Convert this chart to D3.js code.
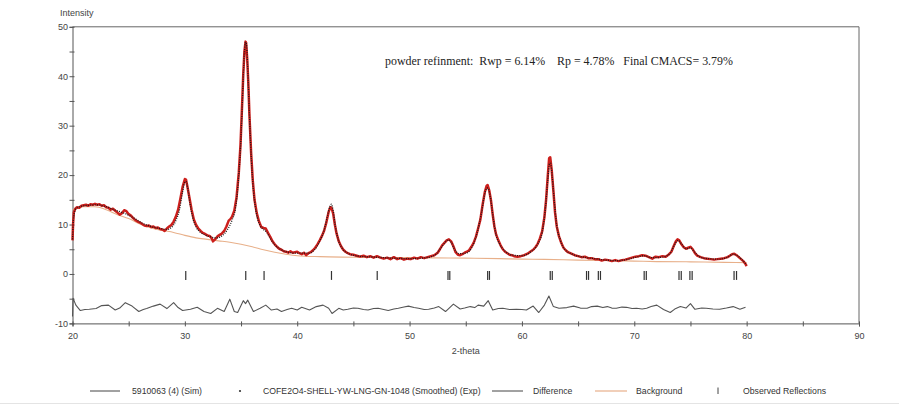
<!DOCTYPE html>
<html><head><meta charset="utf-8">
<script src="https://cdn.jsdelivr.net/npm/d3@7"></script>
<style>html,body{margin:0;padding:0;background:#fff;} svg{display:block;}</style>
</head><body>
<svg id="chart" width="899" height="405"></svg>
<script>
// ---------- DATA ----------
const xTicks = [20,25,30,35,40,45,50,55,60,65,70,75,80,85,90];
const yTicks = [-10,-5,0,5,10,15,20,25,30,35,40,45,50];

// experimental pattern [2-theta, intensity]
const observed = [
[20.00,6.8],[20.05,10.0],[20.12,12.5],[20.25,13.2],[20.4,13.5],[20.6,13.4],[20.8,13.8],[21.0,13.9],[21.2,14.0],[21.4,13.8],
[21.6,14.1],[21.8,14.0],[22.0,14.2],[22.2,14.0],[22.4,14.1],[22.6,13.8],[22.8,13.9],[23.0,13.5],[23.2,13.4],[23.4,13.0],
[23.6,13.2],[23.8,12.8],[24.0,12.4],[24.2,12.0],[24.4,12.3],[24.6,12.9],[24.8,12.7],[25.0,12.1],[25.2,11.8],[25.4,11.3],
[25.6,10.9],[25.8,10.6],[26.0,10.4],[26.2,10.1],[26.4,9.8],[26.6,9.7],[26.8,9.8],[27.0,9.5],[27.2,9.6],[27.4,9.3],
[27.6,9.4],[27.8,9.1],[28.0,9.0],[28.2,8.7],[28.4,9.2],[28.6,9.6],[28.8,9.9],[29.0,10.6],[29.2,11.6],[29.4,13.0],
[29.6,15.2],[29.8,17.6],[30.0,19.2],[30.1,19.1],[30.2,18.0],[30.4,15.5],[30.6,13.0],[30.8,11.0],[31.0,9.9],[31.2,9.2],
[31.4,8.7],[31.6,8.3],[31.8,8.1],[32.0,7.8],[32.2,7.7],[32.4,7.2],[32.5,6.6],[32.7,7.0],[32.9,7.6],[33.1,7.9],
[33.3,8.2],[33.5,8.7],[33.7,9.6],[33.9,10.8],[34.05,11.1],[34.2,11.6],[34.4,12.8],[34.6,15.5],[34.8,20.5],[34.95,26.0],
[35.1,34.5],[35.2,40.5],[35.3,45.0],[35.4,47.0],[35.45,46.8],[35.55,43.5],[35.65,38.5],[35.75,32.0],[35.9,24.4],[36.05,18.8],
[36.2,15.0],[36.4,12.3],[36.6,10.6],[36.8,9.5],[37.0,9.3],[37.2,9.2],[37.4,8.3],[37.6,7.5],[37.8,6.6],[38.0,6.0],
[38.2,5.5],[38.4,5.1],[38.6,4.9],[38.8,4.6],[39.0,4.5],[39.2,4.3],[39.4,4.6],[39.6,4.3],[39.8,4.4],[40.0,4.5],
[40.2,4.2],[40.4,4.0],[40.6,4.3],[40.8,3.8],[41.0,4.2],[41.2,4.4],[41.4,4.8],[41.6,5.3],[41.8,6.0],[42.0,6.8],
[42.2,7.7],[42.4,8.8],[42.6,10.5],[42.8,12.6],[42.95,13.5],[43.05,13.4],[43.2,12.2],[43.35,10.0],[43.5,8.2],[43.7,6.6],
[43.9,5.6],[44.1,4.9],[44.3,4.5],[44.5,4.2],[44.7,4.0],[45.0,3.9],[45.3,3.7],[45.6,3.5],[45.9,3.7],[46.2,3.4],
[46.5,3.6],[46.8,3.3],[47.1,3.6],[47.4,3.3],[47.7,3.1],[48.0,3.3],[48.3,3.0],[48.6,3.4],[48.9,3.0],[49.2,3.2],
[49.5,2.9],[49.8,3.1],[50.1,3.0],[50.4,3.3],[50.7,3.1],[51.0,3.4],[51.3,3.2],[51.6,3.4],[51.9,3.6],[52.2,3.8],
[52.5,4.3],[52.7,5.0],[52.9,5.8],[53.1,6.3],[53.3,6.8],[53.5,7.0],[53.7,6.6],[53.9,5.6],[54.1,4.4],[54.3,3.9],
[54.5,3.8],[54.7,4.0],[54.9,4.3],[55.1,4.5],[55.3,4.8],[55.5,5.5],[55.7,6.3],[55.9,7.5],[56.1,9.2],[56.3,11.0],
[56.5,14.0],[56.7,16.6],[56.85,17.8],[56.95,18.0],[57.1,16.8],[57.25,14.8],[57.4,12.0],[57.55,9.6],[57.7,8.0],[57.9,6.8],
[58.1,5.8],[58.3,5.0],[58.5,4.5],[58.7,4.2],[58.9,3.9],[59.1,3.8],[59.3,3.6],[59.6,3.5],[59.9,3.6],[60.2,3.8],
[60.5,4.1],[60.8,4.6],[61.0,4.9],[61.2,5.4],[61.4,6.1],[61.6,7.2],[61.8,8.6],[62.0,11.5],[62.15,15.0],[62.3,19.8],
[62.42,23.4],[62.52,23.6],[62.65,21.0],[62.8,16.8],[62.95,12.4],[63.1,9.6],[63.3,7.6],[63.5,6.3],[63.7,5.3],[63.9,4.8],
[64.1,4.4],[64.4,4.1],[64.7,3.8],[65.0,3.6],[65.3,3.4],[65.6,3.5],[65.9,3.2],[66.2,3.2],[66.5,3.0],[66.8,3.0],
[67.1,2.7],[67.4,2.9],[67.7,2.8],[68.0,2.6],[68.3,2.8],[68.6,2.6],[68.9,2.8],[69.2,2.9],[69.5,3.1],[69.8,3.3],
[70.1,3.5],[70.4,3.6],[70.7,3.8],[71.0,3.7],[71.3,3.4],[71.6,3.1],[71.9,3.5],[72.2,3.4],[72.5,3.6],[72.8,3.5],
[73.1,4.0],[73.3,4.5],[73.5,5.6],[73.7,6.6],[73.85,7.0],[74.0,6.8],[74.2,6.0],[74.4,5.4],[74.6,5.1],[74.8,5.3],
[75.0,5.5],[75.2,5.0],[75.4,4.2],[75.6,3.7],[75.9,3.4],[76.2,3.2],[76.5,3.1],[76.8,3.0],[77.1,2.9],[77.4,3.0],
[77.7,3.1],[78.0,3.2],[78.3,3.4],[78.5,3.7],[78.7,4.0],[78.9,4.1],[79.1,3.8],[79.3,3.4],[79.5,3.0],[79.7,2.6],
[79.9,2.0],[80.0,1.6]
];

// calculated pattern [2-theta, intensity]
const calculated = [
[20.0,7.0],[20.1,11.5],[20.3,13.2],[20.8,13.7],[21.5,13.9],[22.2,14.0],[23.0,13.6],[23.8,12.9],[24.6,12.3],[25.4,11.4],
[26.2,10.3],[27.0,9.6],[27.8,9.2],[28.4,9.0],[28.8,9.4],[29.2,10.8],[29.5,12.8],[29.8,16.6],[30.0,18.6],[30.1,18.7],
[30.25,17.5],[30.45,14.4],[30.7,11.4],[31.0,9.5],[31.4,8.4],[31.8,7.9],[32.3,7.5],[32.8,7.3],[33.3,7.7],[33.8,9.0],
[34.2,10.9],[34.5,13.2],[34.75,18.5],[34.95,25.5],[35.1,33.5],[35.2,40.0],[35.3,44.8],[35.4,46.9],[35.48,46.5],[35.58,42.8],
[35.7,35.2],[35.85,26.5],[36.0,20.0],[36.2,14.8],[36.45,11.4],[36.7,9.8],[37.0,9.0],[37.3,8.4],[37.6,7.2],[38.0,5.9],
[38.5,5.0],[39.0,4.5],[40.0,4.2],[41.0,4.2],[41.5,4.8],[42.0,6.6],[42.4,8.9],[42.7,11.8],[42.9,13.6],[43.05,14.1],
[43.2,12.8],[43.4,9.6],[43.7,6.6],[44.0,5.2],[44.5,4.2],[45.5,3.6],[47.0,3.4],[48.5,3.2],[50.0,3.1],[51.5,3.3],
[52.3,3.9],[52.8,5.3],[53.2,6.5],[53.45,6.9],[53.7,6.4],[54.0,5.0],[54.4,4.1],[55.0,4.2],[55.5,5.2],[56.0,8.2],
[56.4,12.4],[56.7,16.3],[56.9,17.4],[57.0,17.3],[57.2,15.4],[57.45,11.2],[57.7,7.9],[58.0,6.1],[58.5,4.6],[59.2,3.8],
[60.0,3.7],[60.8,4.5],[61.4,6.0],[61.8,8.4],[62.1,13.5],[62.3,19.0],[62.45,22.3],[62.55,22.4],[62.7,19.6],[62.9,14.2],
[63.1,9.8],[63.4,7.0],[63.8,5.0],[64.5,4.0],[65.5,3.4],[66.5,3.1],[67.5,2.8],[68.5,2.7],[69.5,3.0],[70.3,3.5],
[70.9,3.7],[71.5,3.3],[72.5,3.4],[73.2,4.2],[73.6,6.0],[73.9,6.8],[74.2,6.1],[74.6,5.1],[75.0,5.3],[75.3,4.6],
[75.8,3.5],[76.5,3.1],[77.5,3.0],[78.3,3.4],[78.8,4.0],[79.1,3.8],[79.5,3.1],[80.0,1.8]
];

// refined background [2-theta, intensity]
const background = [
[20,13.0],[21,13.6],[22,13.6],[23,13.0],[24,12.0],[25,11.2],[26,10.1],[27,9.3],[28,8.8],[29,8.4],
[30,7.8],[31,7.3],[32,7.0],[33,6.7],[34,6.4],[35,6.0],[36,5.5],[37,4.9],[38,4.4],[39,4.0],
[40,3.7],[42,3.5],[44,3.4],[46,3.35],[48,3.3],[50,3.3],[52,3.25],[55,3.2],[58,3.1],[60,3.0],
[62,2.95],[65,2.8],[68,2.7],[70,2.6],[72,2.5],[75,2.45],[78,2.35],[80,2.3]
];

// difference curve as plotted (offset below the pattern) [2-theta, value]
const difference = [
[20.0,-8.6],[20.05,-4.9],[20.3,-6.3],[20.7,-7.4],[21.1,-7.2],[21.5,-7.15],[22.1,-7.0],[22.6,-6.4],[23.2,-6.3],[23.8,-7.3],
[24.2,-6.9],[24.7,-5.8],[25.3,-6.5],[25.9,-7.6],[26.3,-7.2],[26.6,-7.0],[27.2,-6.5],[27.8,-6.1],[28.4,-7.0],[29.0,-5.8],
[29.4,-6.8],[29.8,-7.4],[30.5,-7.15],[31.1,-6.75],[31.7,-7.6],[32.3,-8.0],[32.9,-6.95],[33.5,-7.6],[34.0,-5.1],[34.4,-7.6],
[34.7,-7.8],[35.2,-5.4],[35.4,-6.0],[35.6,-5.3],[36.1,-7.6],[36.7,-6.95],[37.2,-6.3],[37.7,-7.3],[38.2,-7.1],[38.6,-7.6],
[39.1,-7.2],[39.5,-6.95],[40.0,-7.3],[40.4,-6.75],[41.1,-7.3],[41.7,-6.6],[42.3,-6.3],[42.8,-6.95],[43.1,-8.0],[43.7,-6.95],
[44.1,-7.3],[44.5,-7.15],[45.0,-6.9],[45.4,-6.95],[45.9,-7.2],[46.3,-7.3],[46.8,-7.0],[47.2,-6.95],[47.7,-7.2],[48.1,-7.4],
[48.6,-7.1],[49.0,-6.95],[49.5,-6.7],[49.9,-6.5],[50.4,-6.8],[50.8,-6.95],[51.3,-7.2],[51.7,-7.15],[52.2,-6.9],[52.6,-6.6],
[53.2,-7.6],[53.9,-6.1],[54.5,-7.1],[54.9,-6.9],[55.4,-6.6],[55.8,-6.8],[56.1,-6.3],[56.6,-6.5],[57.0,-5.4],[57.4,-7.3],
[57.9,-7.0],[58.3,-6.95],[58.9,-7.2],[59.5,-7.15],[60.0,-7.2],[60.4,-7.3],[61.0,-6.5],[61.5,-7.8],[62.0,-6.3],[62.4,-4.45],
[62.8,-6.6],[63.3,-6.95],[64.0,-6.8],[64.6,-6.5],[65.2,-6.9],[65.8,-6.95],[66.2,-6.6],[66.7,-6.5],[67.2,-6.8],[67.6,-6.6],
[68.0,-6.9],[68.4,-6.95],[68.9,-6.7],[69.3,-6.75],[69.8,-7.0],[70.2,-6.95],[70.7,-7.1],[71.1,-6.95],[71.5,-6.6],[72.0,-6.3],
[72.6,-7.2],[73.2,-7.8],[73.6,-7.1],[74.1,-6.6],[74.6,-6.9],[75.0,-6.0],[75.4,-7.15],[76.0,-6.9],[76.4,-6.95],[77.0,-7.1],
[77.6,-7.15],[78.2,-6.9],[78.8,-6.6],[79.4,-7.15],[79.9,-6.75]
];

// reflection positions (K-alpha1) and split K-alpha2 partners
const reflections = [30.08,35.42,37.05,43.05,47.12,53.42,56.95,62.52,65.75,66.80,70.88,73.98,74.95,78.88];
const reflectionsK2 = [53.58,57.11,62.70,65.93,66.99,71.07,74.18,75.15,79.10];
const reflectionBand = [0.6,-1.2];

const annotation = "powder refinment:  Rwp = 6.14%    Rp = 4.78%   Final CMACS= 3.79%";
const legendLabels = ["5910063 (4) (Sim)","COFE2O4-SHELL-YW-LNG-GN-1048 (Smoothed) (Exp)","Difference","Background","Observed Reflections"];

// ---------- DRAWING ----------
const svg = d3.select("#chart");
const x = d3.scaleLinear().domain([20,90]).range([72.5,859]);
const y = d3.scaleLinear().domain([-10,50]).range([323.4,26.8]);
const sans = "'Liberation Sans', Arial, sans-serif";
const axisColor = "#555";

// frame (top + right)
svg.append("path")
  .attr("d",`M${x(20)},${y(50)}H${x(90)}V${y(-10)}`)
  .attr("fill","none").attr("stroke","#666").attr("stroke-width",1);

// x axis
const gx = svg.append("g").attr("transform",`translate(0,${y(-10)})`)
  .call(d3.axisBottom(x).tickValues(xTicks).tickSize(3).tickFormat(d => d%10===0 ? d : ""));
gx.select(".domain").attr("stroke",axisColor);
gx.selectAll(".tick line").attr("stroke",axisColor).attr("y1",-2).attr("y2",3);
gx.selectAll(".tick text").attr("y",9).attr("fill","#444").style("font-family",sans).style("font-size","9px");

// y axis
const gy = svg.append("g").attr("transform",`translate(${x(20)},0)`)
  .call(d3.axisLeft(y).tickValues(yTicks).tickSize(3).tickFormat(d => d%10===0 ? d : ""));
gy.select(".domain").attr("stroke",axisColor);
gy.selectAll(".tick line").attr("stroke",axisColor).attr("x1",2).attr("x2",-3);
gy.selectAll(".tick text").attr("x",-4.5).attr("fill","#444").style("font-family",sans).style("font-size","9px");

// axis titles
svg.append("text").attr("x",60).attr("y",15.5).text("Intensity")
  .attr("fill","#444").style("font-family",sans).style("font-size","9px");
svg.append("text").attr("x",(x(20)+x(90))/2).attr("y",354).attr("text-anchor","middle").text("2-theta")
  .attr("fill","#444").style("font-family",sans).style("font-size","9px");

const line = d3.line().x(d => x(d[0])).y(d => y(d[1]));

// background
svg.append("path").datum(background).attr("d",d3.line().x(d=>x(d[0])).y(d=>y(d[1])).curve(d3.curveMonotoneX))
  .attr("fill","none").attr("stroke","#e8b08a").attr("stroke-width",1.1);

// observed (thick red)
svg.append("path").datum(observed).attr("d",line)
  .attr("fill","none").attr("stroke","#cc1f1c").attr("stroke-width",2.5).attr("stroke-linejoin","round");

// calculated (black dotted)
svg.append("path").datum(calculated).attr("d",d3.line().x(d=>x(d[0])).y(d=>y(d[1])).curve(d3.curveMonotoneX))
  .attr("fill","none").attr("stroke","#1a1a1a").attr("stroke-width",1.3).attr("stroke-dasharray","1,1.3");

// difference
svg.append("path").datum(difference).attr("d",line)
  .attr("fill","none").attr("stroke","#555").attr("stroke-width",1.1).attr("stroke-linejoin","round");

// reflection ticks
svg.append("g").selectAll("line").data(reflections.concat(reflectionsK2)).join("line")
  .attr("x1",d=>x(d)).attr("x2",d=>x(d))
  .attr("y1",y(reflectionBand[0])).attr("y2",y(reflectionBand[1]))
  .attr("stroke","#333").attr("stroke-width",1.2);

// annotation (serif), fitted to the reference width
const ann = svg.append("text").attr("x",385).attr("y",65).text(annotation)
  .attr("fill","#222").style("font-family","'Liberation Serif','Times New Roman',serif")
  .style("font-size","12px").style("white-space","pre");
const annW = ann.node().getComputedTextLength();
ann.style("font-size",(12*348/annW).toFixed(2)+"px");

// legend
const ly = 391;
const lg = svg.append("g").style("font-family",sans).style("font-size","8.7px").attr("fill","#333");
lg.append("line").attr("x1",90).attr("x2",120).attr("y1",ly).attr("y2",ly).attr("stroke","#444").attr("stroke-width",1);
lg.append("text").attr("x",132).attr("y",ly+3).text(legendLabels[0]);
lg.append("circle").attr("cx",240).attr("cy",ly).attr("r",1.1).attr("fill","#333");
lg.append("text").attr("x",263).attr("y",ly+3).text(legendLabels[1]);
lg.append("line").attr("x1",492).attr("x2",523).attr("y1",ly).attr("y2",ly).attr("stroke","#444").attr("stroke-width",1);
lg.append("text").attr("x",533).attr("y",ly+3).text(legendLabels[2]);
lg.append("line").attr("x1",595).attr("x2",627).attr("y1",ly).attr("y2",ly).attr("stroke","#e8b08a").attr("stroke-width",1.2);
lg.append("text").attr("x",636).attr("y",ly+3).text(legendLabels[3]);
lg.append("line").attr("x1",718).attr("x2",718).attr("y1",ly-3.5).attr("y2",ly+3).attr("stroke","#444").attr("stroke-width",1);
lg.append("text").attr("x",743).attr("y",ly+3).text(legendLabels[4]);

// faint bottom border
svg.append("line").attr("x1",0).attr("x2",899).attr("y1",403.5).attr("y2",403.5).attr("stroke","#e4e4e4").attr("stroke-width",1);
</script>
</body></html>
